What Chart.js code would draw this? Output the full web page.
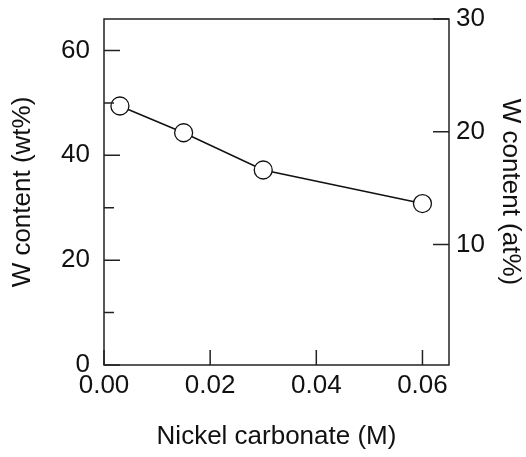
<!DOCTYPE html>
<html>
<head>
<meta charset="utf-8">
<script src="https://cdn.jsdelivr.net/npm/chart.js@4.4.1/dist/chart.umd.min.js"></script>
<style>
  html, body { margin: 0; padding: 0; background: #fff; }
  #wrap { width: 526px; height: 457px; }
</style>
</head>
<body>
<div id="wrap"><canvas id="chart"></canvas></div>
<script>
//! Data
const concentration = [0.003, 0.015, 0.03, 0.06];
const wtPercent = [49.4, 44.3, 37.2, 30.8];

const xTicks = [0, 0.02, 0.04, 0.06];
const leftTicks = [0, 10, 20, 30, 40, 50, 60];
const leftLabels = [0, 20, 40, 60];
const rightTicks = [10, 20, 30];

const FONT = { family: 'Liberation Sans, Arial, sans-serif', size: 26 };

//! inward tick marks + frame
const frameTicks = {
  id: 'frameTicks',
  afterDraw(chart) {
    const { ctx, chartArea: a, scales } = chart;
    ctx.save();
    ctx.strokeStyle = '#222';
    ctx.lineWidth = 1.5;
    ctx.strokeRect(a.left, a.top, a.right - a.left, a.bottom - a.top);

    ctx.beginPath();
    xTicks.forEach(v => {
      const x = scales.x.getPixelForValue(v);
      ctx.moveTo(x, a.bottom);
      ctx.lineTo(x, a.bottom - 15);
    });
    leftTicks.forEach(v => {
      const y = scales.y.getPixelForValue(v);
      const len = leftLabels.includes(v) ? 16 : 10;
      ctx.moveTo(a.left, y);
      ctx.lineTo(a.left + len, y);
    });
    rightTicks.forEach(v => {
      const y = scales.y1.getPixelForValue(v);
      ctx.moveTo(a.right, y);
      ctx.lineTo(a.right - 16, y);
    });
    ctx.stroke();
    ctx.restore();
  }
};

const ctx = document.getElementById('chart').getContext('2d');

new Chart(ctx, {
  type: 'line',
  data: {
    datasets: [{
      data: concentration.map((c, i) => ({ x: c, y: wtPercent[i] })),
      borderColor: '#111',
      borderWidth: 1.5,
      tension: 0,
      pointRadius: 9,
      pointBackgroundColor: '#fff',
      pointBorderColor: '#111',
      pointBorderWidth: 1.3,
      yAxisID: 'y'
    }]
  },
  options: {
    responsive: true,
    maintainAspectRatio: false,
    animation: false,
    layout: { padding: { top: 19, left: 0, right: 0, bottom: 0 } },
    plugins: { legend: { display: false }, tooltip: { enabled: false } },
    scales: {
      x: {
        type: 'linear',
        min: 0,
        max: 0.065,
        afterBuildTicks: s => { s.ticks = xTicks.map(v => ({ value: v })); },
        afterFit: s => { s.height = 92; s.paddingLeft = 0; s.paddingRight = 0; },
        grid: { display: false, drawTicks: false },
        border: { display: false },
        ticks: {
          color: '#111',
          font: FONT,
          padding: 5,
          maxRotation: 0,
          callback: v => v.toFixed(2)
        },
        title: {
          display: true,
          text: 'Nickel carbonate (M)',
          color: '#111',
          font: FONT,
          padding: { top: 0, bottom: 5 }
        }
      },
      y: {
        position: 'left',
        min: 0,
        max: 66,
        afterBuildTicks: s => { s.ticks = leftTicks.map(v => ({ value: v })); },
        afterFit: s => { s.width = 104; s.paddingTop = 0; s.paddingBottom = 0; },
        grid: { display: false, drawTicks: false },
        border: { display: false },
        ticks: {
          color: '#111',
          font: FONT,
          padding: 14,
          callback: v => leftLabels.includes(v) ? String(v) : ''
        },
        title: {
          display: true,
          text: 'W content (wt%)',
          color: '#111',
          font: FONT,
          padding: { top: 7, bottom: 0 }
        }
      },
      y1: {
        position: 'right',
        min: -0.7,
        max: 30,
        afterBuildTicks: s => { s.ticks = rightTicks.map(v => ({ value: v })); },
        afterFit: s => { s.width = 77; s.paddingTop = 0; s.paddingBottom = 0; },
        grid: { display: false, drawTicks: false },
        border: { display: false },
        ticks: {
          color: '#111',
          font: FONT,
          padding: 7
        },
        title: {
          display: true,
          text: 'W content (at%)',
          color: '#111',
          font: FONT,
          padding: { top: 0, bottom: 0 }
        }
      }
    }
  },
  plugins: [frameTicks]
});
</script>
</body>
</html>
